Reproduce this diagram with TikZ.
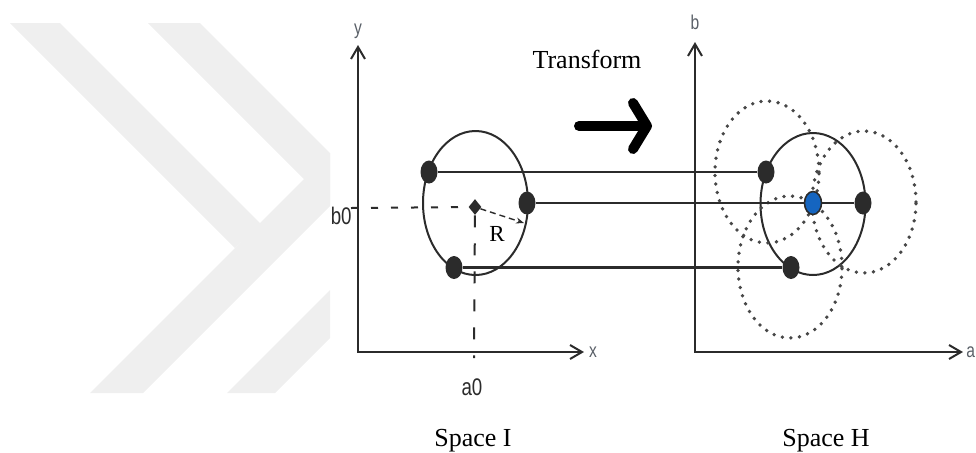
\documentclass[tikz,border=0pt]{standalone}
\usepackage{fontspec}
\setmainfont{Liberation Serif}
\newfontfamily\axisfont[FakeStretch=0.78]{Liberation Sans}
\usetikzlibrary{arrows.meta, shapes.geometric}
\definecolor{wmark}{HTML}{EFEFEF}
\definecolor{ink}{HTML}{2B2B2B}
\definecolor{dotblue}{HTML}{1565C0}
\definecolor{axislbl}{HTML}{5A6068}

\begin{document}
\begin{tikzpicture}[x=0.5pt, y=-0.5pt,
  axis/.style={{Straight Barb[length=6pt, width=7pt]}-{Straight Barb[length=6pt, width=7pt]}, line width=1pt, ink},
  guide/.style={dash pattern=on 3.5pt off 6.5pt, line width=1pt, ink},
  ring/.style={line width=1pt, ink},
  halo/.style={dash pattern=on 0pt off 4.3pt, line cap=round, line width=1.9pt, black!72},
  link/.style={line width=1.2pt, ink},
  spot/.style={ellipse, fill=ink, minimum width=8.5pt, minimum height=11.5pt, inner sep=0pt},
  bluespot/.style={spot, fill=dotblue, draw=ink, line width=0.8pt},
  centre/.style={diamond, fill=ink, minimum width=6.5pt, minimum height=8pt, inner sep=0pt},
  rarrow/.style={-{Stealth[length=4pt, width=3pt]}, densely dashed, line width=0.7pt, ink},
  bigarrow/.style={line width=5pt, line cap=round, -{Straight Barb[length=7pt, width=23pt, round]}},
  lbl/.style={font=\axisfont\fontsize{10}{12}\selectfont, text=axislbl, inner sep=1pt},
  ticklbl/.style={font=\axisfont\fontsize{12}{14}\selectfont, text=ink, inner sep=1pt},
  caption/.style={font=\fontsize{13}{15}\selectfont, anchor=base}
]
\useasboundingbox (0,0) rectangle (976,452);

\fill[wmark] (10,23) -- (60,23) -- (261,224) -- (235,248) -- cycle;
\fill[wmark] (90,393) -- (143,393) -- (330,206) -- (330,153) -- cycle;
\fill[wmark] (148,23) -- (200,23) -- (330,153) -- (330,205) -- cycle;
\fill[wmark] (227,393) -- (275,393) -- (330,338) -- (330,290) -- cycle;

\coordinate (oI) at (358,352);
\coordinate (yI) at (358,45);
\coordinate (xI) at (584,352);
\draw[axis] (yI) -- (oI) -- (xI);
\node[lbl] (ylbl) at (358,31) {y};
\node[lbl] (xlbl) at (593,352) {x};
\node[ticklbl, anchor=east] (b0) at (354,216) {b0};
\node[ticklbl] (a0) at (472,387) {a0};

\draw[ring] (475.5,203) ellipse [x radius=26.25pt, y radius=36pt];
\node[centre] (c0) at (475,207) {};
\coordinate (b0t) at (351,208);
\coordinate (a0t) at (474,358);
\draw[guide] (b0t) -- (c0);
\draw[guide, dash pattern=on 6pt off 8pt] (c0) -- (a0t);
\coordinate (rtip) at (524,223);
\draw[rarrow] (c0) -- (rtip);
\node[font=\fontsize{11.5}{13}\selectfont] (rlbl) at (497,234) {R};

\node[spot] (p1) at (429,172) {};
\node[spot] (p2) at (527,203) {};
\node[spot] (p3) at (454,267.5) {};

\coordinate (oH) at (695,352);
\coordinate (yH) at (695,42);
\coordinate (xH) at (963,352);
\draw[axis] (yH) -- (oH) -- (xH);
\node[lbl] (blbl) at (695,22) {b};
\node[lbl, anchor=west, inner sep=0pt] (albl) at (966,352) {a};

\draw[ring] (813,204) ellipse [x radius=26.25pt, y radius=35.5pt];
\draw[halo] (767,172) ellipse [x radius=26pt, y radius=35.5pt];
\draw[halo] (864,202) ellipse [x radius=26pt, y radius=35.5pt];
\draw[halo] (790,267) ellipse [x radius=26pt, y radius=35.5pt];

\node[spot] (q1) at (766,172) {};
\node[spot] (q2) at (863,203) {};
\node[spot] (q3) at (791,267.5) {};
\node[bluespot] (qc) at (813,203) {};

\draw[link] (p1) -- (q1);
\draw[link] (p2) -- (qc);
\draw[link] (qc) -- (q2);
\draw[link] (p3) -- (q3);

\coordinate (tf0) at (579,126);
\coordinate (tf1) at (652,126);
\draw[bigarrow] (tf0) -- (tf1);
\node[caption] (tft) at (587,68) {Transform};

\node[caption] (spI) at (473,446) {Space I};
\node[caption] (spH) at (826,446) {Space H};
\end{tikzpicture}
\end{document}
